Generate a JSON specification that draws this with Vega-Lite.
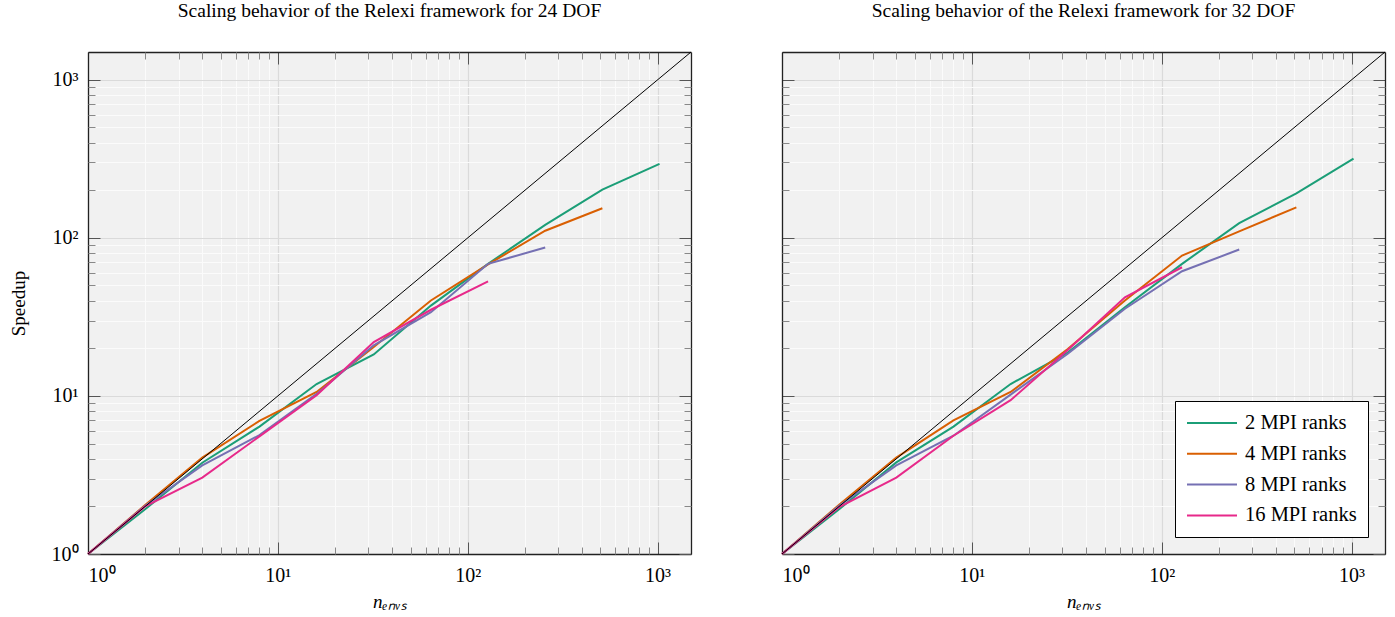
{
  "$schema": "https://vega.github.io/schema/vega-lite/v6.json",
  "background": "white",
  "padding": {"left": 9, "top": 0, "right": 5, "bottom": 5},
  "datasets": {
    "s24": [
      {"n": 1, "speedup": 1, "ranks": "2 MPI ranks"},
      {"n": 2, "speedup": 1.92, "ranks": "2 MPI ranks"},
      {"n": 4, "speedup": 3.78, "ranks": "2 MPI ranks"},
      {"n": 8, "speedup": 6.4, "ranks": "2 MPI ranks"},
      {"n": 16, "speedup": 11.9, "ranks": "2 MPI ranks"},
      {"n": 32, "speedup": 18.3, "ranks": "2 MPI ranks"},
      {"n": 64, "speedup": 37.3, "ranks": "2 MPI ranks"},
      {"n": 128, "speedup": 68.5, "ranks": "2 MPI ranks"},
      {"n": 256, "speedup": 121, "ranks": "2 MPI ranks"},
      {"n": 512, "speedup": 202, "ranks": "2 MPI ranks"},
      {"n": 1024, "speedup": 294, "ranks": "2 MPI ranks"},
      {"n": 1, "speedup": 1, "ranks": "4 MPI ranks"},
      {"n": 2, "speedup": 2.04, "ranks": "4 MPI ranks"},
      {"n": 4, "speedup": 4.07, "ranks": "4 MPI ranks"},
      {"n": 8, "speedup": 6.95, "ranks": "4 MPI ranks"},
      {"n": 16, "speedup": 10.6, "ranks": "4 MPI ranks"},
      {"n": 32, "speedup": 20.4, "ranks": "4 MPI ranks"},
      {"n": 64, "speedup": 40.2, "ranks": "4 MPI ranks"},
      {"n": 128, "speedup": 68, "ranks": "4 MPI ranks"},
      {"n": 256, "speedup": 111, "ranks": "4 MPI ranks"},
      {"n": 512, "speedup": 154, "ranks": "4 MPI ranks"},
      {"n": 1, "speedup": 1, "ranks": "8 MPI ranks"},
      {"n": 2, "speedup": 2.02, "ranks": "8 MPI ranks"},
      {"n": 4, "speedup": 3.64, "ranks": "8 MPI ranks"},
      {"n": 8, "speedup": 5.65, "ranks": "8 MPI ranks"},
      {"n": 16, "speedup": 10.3, "ranks": "8 MPI ranks"},
      {"n": 32, "speedup": 20.9, "ranks": "8 MPI ranks"},
      {"n": 64, "speedup": 33.9, "ranks": "8 MPI ranks"},
      {"n": 128, "speedup": 68.5, "ranks": "8 MPI ranks"},
      {"n": 256, "speedup": 86.9, "ranks": "8 MPI ranks"},
      {"n": 1, "speedup": 1, "ranks": "16 MPI ranks"},
      {"n": 2, "speedup": 2.0, "ranks": "16 MPI ranks"},
      {"n": 4, "speedup": 3.04, "ranks": "16 MPI ranks"},
      {"n": 8, "speedup": 5.55, "ranks": "16 MPI ranks"},
      {"n": 16, "speedup": 10.1, "ranks": "16 MPI ranks"},
      {"n": 32, "speedup": 21.9, "ranks": "16 MPI ranks"},
      {"n": 64, "speedup": 35.1, "ranks": "16 MPI ranks"},
      {"n": 128, "speedup": 53, "ranks": "16 MPI ranks"}
    ],
    "s32": [
      {"n": 1, "speedup": 1, "ranks": "2 MPI ranks"},
      {"n": 2, "speedup": 1.92, "ranks": "2 MPI ranks"},
      {"n": 4, "speedup": 3.8, "ranks": "2 MPI ranks"},
      {"n": 8, "speedup": 6.4, "ranks": "2 MPI ranks"},
      {"n": 16, "speedup": 11.9, "ranks": "2 MPI ranks"},
      {"n": 32, "speedup": 18.8, "ranks": "2 MPI ranks"},
      {"n": 64, "speedup": 36.4, "ranks": "2 MPI ranks"},
      {"n": 128, "speedup": 68.5, "ranks": "2 MPI ranks"},
      {"n": 256, "speedup": 124, "ranks": "2 MPI ranks"},
      {"n": 512, "speedup": 191, "ranks": "2 MPI ranks"},
      {"n": 1024, "speedup": 317, "ranks": "2 MPI ranks"},
      {"n": 1, "speedup": 1, "ranks": "4 MPI ranks"},
      {"n": 2, "speedup": 2.05, "ranks": "4 MPI ranks"},
      {"n": 4, "speedup": 4.07, "ranks": "4 MPI ranks"},
      {"n": 8, "speedup": 7.0, "ranks": "4 MPI ranks"},
      {"n": 16, "speedup": 10.6, "ranks": "4 MPI ranks"},
      {"n": 32, "speedup": 19.8, "ranks": "4 MPI ranks"},
      {"n": 64, "speedup": 40.2, "ranks": "4 MPI ranks"},
      {"n": 128, "speedup": 77.3, "ranks": "4 MPI ranks"},
      {"n": 256, "speedup": 110, "ranks": "4 MPI ranks"},
      {"n": 512, "speedup": 156, "ranks": "4 MPI ranks"},
      {"n": 1, "speedup": 1, "ranks": "8 MPI ranks"},
      {"n": 2, "speedup": 2.02, "ranks": "8 MPI ranks"},
      {"n": 4, "speedup": 3.64, "ranks": "8 MPI ranks"},
      {"n": 8, "speedup": 5.6, "ranks": "8 MPI ranks"},
      {"n": 16, "speedup": 10.2, "ranks": "8 MPI ranks"},
      {"n": 32, "speedup": 18.5, "ranks": "8 MPI ranks"},
      {"n": 64, "speedup": 35.6, "ranks": "8 MPI ranks"},
      {"n": 128, "speedup": 61.5, "ranks": "8 MPI ranks"},
      {"n": 256, "speedup": 84.4, "ranks": "8 MPI ranks"},
      {"n": 1, "speedup": 1, "ranks": "16 MPI ranks"},
      {"n": 2, "speedup": 1.98, "ranks": "16 MPI ranks"},
      {"n": 4, "speedup": 3.04, "ranks": "16 MPI ranks"},
      {"n": 8, "speedup": 5.6, "ranks": "16 MPI ranks"},
      {"n": 16, "speedup": 9.4, "ranks": "16 MPI ranks"},
      {"n": 32, "speedup": 19.5, "ranks": "16 MPI ranks"},
      {"n": 64, "speedup": 42.1, "ranks": "16 MPI ranks"},
      {"n": 128, "speedup": 65.2, "ranks": "16 MPI ranks"}
    ],
    "ideal": [
      {"n": 1, "speedup": 1},
      {"n": 1500, "speedup": 1500}
    ]
  },
  "spacing": 85,
  "resolve": {"scale": {"color": "independent"}, "legend": {"color": "independent"}},
  "hconcat": [
    {
      "width": 603,
      "height": 502,
      "title": {"text": "Scaling behavior of the Relexi framework for 24 DOF", "font": "Liberation Serif", "fontSize": 19.5, "fontWeight": "normal", "color": "black", "anchor": "middle", "offset": 29},
      "resolve": {"axis": {"x": "independent", "y": "independent"}},
      "layer": [
        {
          "data": {"name": "s24"},
          "mark": {"type": "line", "strokeWidth": 2},
          "encoding": {
            "x": {"field": "n", "type": "quantitative", "scale": {"type": "log", "domain": [1, 1500], "nice": false},
              "axis": {"orient": "bottom", "values": [1, 10, 100, 1000], "labelExpr": "'10' + (datum.value == 1 ? '\u2070' : datum.value == 10 ? '\u00b9' : datum.value == 100 ? '\u00b2' : '\u00b3')", "grid": true, "gridColor": "#dadada", "gridWidth": 1.2, "tickSize": -12, "labelPadding": 23, "domain": true, "title": "n\u2091\u2099\u1d65\u209b", "titleFontStyle": "italic", "titlePadding": 7}},
            "y": {"field": "speedup", "type": "quantitative", "scale": {"type": "log", "domain": [1, 1500], "nice": false},
              "axis": {"orient": "left", "values": [1, 10, 100, 1000], "labelExpr": "'10' + (datum.value == 1 ? '\u2070' : datum.value == 10 ? '\u00b9' : datum.value == 100 ? '\u00b2' : '\u00b3')", "grid": true, "gridColor": "#dadada", "gridWidth": 1.2, "tickSize": -12, "labelPadding": 22, "domain": true, "title": "Speedup", "titlePadding": 23}},
            "color": {"field": "ranks", "type": "nominal", "scale": {"domain": ["2 MPI ranks", "4 MPI ranks", "8 MPI ranks", "16 MPI ranks"], "range": ["#1b9e77", "#d95f02", "#7570b3", "#e7298a"]}, "legend": null}
          }
        },
        {
          "data": {"name": "ideal"},
          "mark": {"type": "line", "strokeWidth": 1, "color": "black"},
          "encoding": {
            "x": {"field": "n", "type": "quantitative", "axis": {"orient": "bottom", "values": [2, 3, 4, 5, 6, 7, 8, 9, 20, 30, 40, 50, 60, 70, 80, 90, 200, 300, 400, 500, 600, 700, 800, 900], "labels": false, "grid": true, "gridColor": "#fbfbfb", "tickSize": -7, "tickColor": "#888", "domain": false, "title": null}},
            "y": {"field": "speedup", "type": "quantitative", "axis": {"orient": "left", "values": [2, 3, 4, 5, 6, 7, 8, 9, 20, 30, 40, 50, 60, 70, 80, 90, 200, 300, 400, 500, 600, 700, 800, 900], "labels": false, "grid": true, "gridColor": "#fbfbfb", "tickSize": -7, "tickColor": "#888", "domain": false, "title": null}}
          }
        },
        {
          "data": {"name": "ideal"},
          "mark": {"type": "line", "opacity": 0},
          "encoding": {
            "x": {"field": "n", "type": "quantitative", "axis": {"orient": "top", "values": [1, 10, 100, 1000], "labels": false, "grid": false, "tickSize": -12, "domain": true, "title": null}},
            "y": {"field": "speedup", "type": "quantitative", "axis": {"orient": "right", "values": [1, 10, 100, 1000], "labels": false, "grid": false, "tickSize": -12, "domain": true, "title": null}}
          }
        },
        {
          "data": {"name": "ideal"},
          "mark": {"type": "line", "opacity": 0},
          "encoding": {
            "x": {"field": "n", "type": "quantitative", "axis": {"orient": "top", "values": [2, 3, 4, 5, 6, 7, 8, 9, 20, 30, 40, 50, 60, 70, 80, 90, 200, 300, 400, 500, 600, 700, 800, 900], "labels": false, "grid": false, "tickSize": -7, "tickColor": "#888", "domain": false, "title": null}},
            "y": {"field": "speedup", "type": "quantitative", "axis": {"orient": "right", "values": [2, 3, 4, 5, 6, 7, 8, 9, 20, 30, 40, 50, 60, 70, 80, 90, 200, 300, 400, 500, 600, 700, 800, 900], "labels": false, "grid": false, "tickSize": -7, "tickColor": "#888", "domain": false, "title": null}}
          }
        }
      ]
    },
    {
      "width": 603,
      "height": 502,
      "title": {"text": "Scaling behavior of the Relexi framework for 32 DOF", "font": "Liberation Serif", "fontSize": 19.5, "fontWeight": "normal", "color": "black", "anchor": "middle", "offset": 29},
      "resolve": {"axis": {"x": "independent", "y": "independent"}},
      "layer": [
        {
          "data": {"name": "s32"},
          "mark": {"type": "line", "strokeWidth": 2},
          "encoding": {
            "x": {"field": "n", "type": "quantitative", "scale": {"type": "log", "domain": [1, 1500], "nice": false},
              "axis": {"orient": "bottom", "values": [1, 10, 100, 1000], "labelExpr": "'10' + (datum.value == 1 ? '\u2070' : datum.value == 10 ? '\u00b9' : datum.value == 100 ? '\u00b2' : '\u00b3')", "grid": true, "gridColor": "#dadada", "gridWidth": 1.2, "tickSize": -12, "labelPadding": 23, "domain": true, "title": "n\u2091\u2099\u1d65\u209b", "titleFontStyle": "italic", "titlePadding": 7}},
            "y": {"field": "speedup", "type": "quantitative", "scale": {"type": "log", "domain": [1, 1500], "nice": false},
              "axis": {"orient": "left", "values": [1, 10, 100, 1000], "labels": false, "grid": true, "gridColor": "#dadada", "gridWidth": 1.2, "tickSize": -12, "domain": true, "title": null}},
            "color": {"field": "ranks", "type": "nominal", "scale": {"domain": ["2 MPI ranks", "4 MPI ranks", "8 MPI ranks", "16 MPI ranks"], "range": ["#1b9e77", "#d95f02", "#7570b3", "#e7298a"]},
              "legend": {"orient": "bottom-right", "offset": 17, "title": null, "symbolType": "M-2.5,0H2.5", "symbolSize": 400, "symbolStrokeWidth": 2, "symbolOffset": 15, "labelOffset": 22, "labelFont": "Liberation Serif", "labelFontSize": 20.5, "labelColor": "black", "strokeColor": "black", "fillColor": "white", "padding": 11, "rowPadding": 8.8, "cornerRadius": 0, "labelExpr": "length(datum.label) < 12 ? '\u2007' + datum.label : datum.label"}}
          }
        },
        {
          "data": {"name": "ideal"},
          "mark": {"type": "line", "strokeWidth": 1, "color": "black"},
          "encoding": {
            "x": {"field": "n", "type": "quantitative", "axis": {"orient": "bottom", "values": [2, 3, 4, 5, 6, 7, 8, 9, 20, 30, 40, 50, 60, 70, 80, 90, 200, 300, 400, 500, 600, 700, 800, 900], "labels": false, "grid": true, "gridColor": "#fbfbfb", "tickSize": -7, "tickColor": "#888", "domain": false, "title": null}},
            "y": {"field": "speedup", "type": "quantitative", "axis": {"orient": "left", "values": [2, 3, 4, 5, 6, 7, 8, 9, 20, 30, 40, 50, 60, 70, 80, 90, 200, 300, 400, 500, 600, 700, 800, 900], "labels": false, "grid": true, "gridColor": "#fbfbfb", "tickSize": -7, "tickColor": "#888", "domain": false, "title": null}}
          }
        },
        {
          "data": {"name": "ideal"},
          "mark": {"type": "line", "opacity": 0},
          "encoding": {
            "x": {"field": "n", "type": "quantitative", "axis": {"orient": "top", "values": [1, 10, 100, 1000], "labels": false, "grid": false, "tickSize": -12, "domain": true, "title": null}},
            "y": {"field": "speedup", "type": "quantitative", "axis": {"orient": "right", "values": [1, 10, 100, 1000], "labels": false, "grid": false, "tickSize": -12, "domain": true, "title": null}}
          }
        },
        {
          "data": {"name": "ideal"},
          "mark": {"type": "line", "opacity": 0},
          "encoding": {
            "x": {"field": "n", "type": "quantitative", "axis": {"orient": "top", "values": [2, 3, 4, 5, 6, 7, 8, 9, 20, 30, 40, 50, 60, 70, 80, 90, 200, 300, 400, 500, 600, 700, 800, 900], "labels": false, "grid": false, "tickSize": -7, "tickColor": "#888", "domain": false, "title": null}},
            "y": {"field": "speedup", "type": "quantitative", "axis": {"orient": "right", "values": [2, 3, 4, 5, 6, 7, 8, 9, 20, 30, 40, 50, 60, 70, 80, 90, 200, 300, 400, 500, 600, 700, 800, 900], "labels": false, "grid": false, "tickSize": -7, "tickColor": "#888", "domain": false, "title": null}}
          }
        }
      ]
    }
  ],
  "config": {
    "view": {"stroke": null, "fill": "#f1f1f1"},
    "axis": {"labelFont": "Liberation Serif", "labelFontSize": 20, "labelColor": "black", "titleFont": "Liberation Serif", "titleFontSize": 19, "titleFontWeight": "normal", "titleColor": "black", "tickColor": "#555", "tickWidth": 1, "domainColor": "#222", "domainWidth": 1.3, "labelAngle": 0}
  }
}
